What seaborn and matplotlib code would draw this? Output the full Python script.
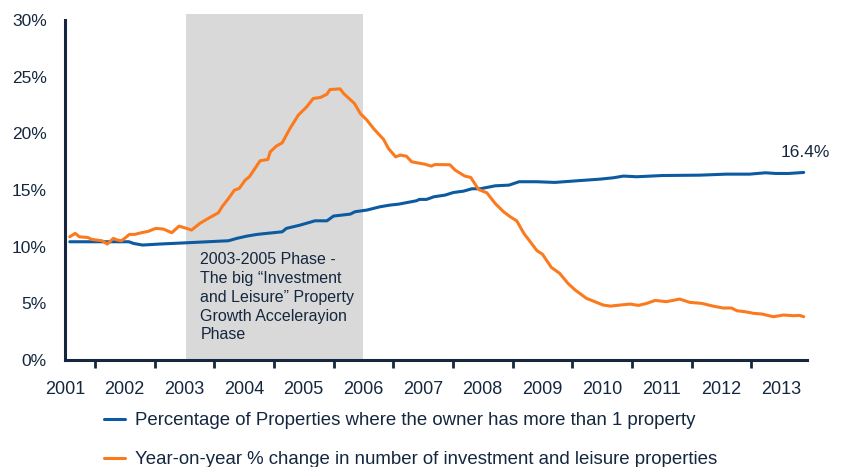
import pandas as pd
import numpy as np
import seaborn as sns
import matplotlib.pyplot as plt
from matplotlib.ticker import MultipleLocator, FuncFormatter

# data (decimal year, percent)
owner_years = [2001.08, 2002.07, 2002.15, 2002.30, 2002.59, 2003.04, 2003.74, 2003.88, 2004.05, 2004.22,
               2004.38, 2004.64, 2004.71, 2004.94, 2005.19, 2005.39, 2005.50, 2005.78, 2005.86, 2006.06,
               2006.28, 2006.45, 2006.59, 2006.89, 2006.94, 2007.06, 2007.18, 2007.37, 2007.51, 2007.68,
               2007.82, 2007.96, 2008.21, 2008.44, 2008.61, 2008.90, 2009.21, 2009.57, 2009.97, 2010.19,
               2010.36, 2010.58, 2011.02, 2011.64, 2012.08, 2012.47, 2012.74, 2012.91, 2013.13, 2013.38]
owner_pct = [10.44, 10.44, 10.29, 10.15, 10.24, 10.35, 10.53, 10.74, 10.94, 11.09,
             11.18, 11.32, 11.62, 11.91, 12.29, 12.29, 12.71, 12.88, 13.09, 13.24,
             13.53, 13.68, 13.76, 14.06, 14.18, 14.18, 14.41, 14.56, 14.79, 14.91,
             15.12, 15.12, 15.38, 15.44, 15.74, 15.74, 15.68, 15.82, 15.97, 16.09,
             16.24, 16.18, 16.29, 16.32, 16.41, 16.41, 16.53, 16.47, 16.47, 16.56]

yoy_years = [2001.08, 2001.17, 2001.24, 2001.38, 2001.45, 2001.53, 2001.62, 2001.71, 2001.81, 2001.88,
             2001.95, 2002.08, 2002.17, 2002.28, 2002.39, 2002.52, 2002.65, 2002.79, 2002.91, 2003.04,
             2003.12, 2003.26, 2003.40, 2003.57, 2003.64, 2003.74, 2003.84, 2003.92, 2004.02, 2004.09,
             2004.27, 2004.40, 2004.44, 2004.54, 2004.64, 2004.77, 2004.91, 2005.05, 2005.16, 2005.28,
             2005.39, 2005.44, 2005.61, 2005.67, 2005.85, 2005.95, 2006.06, 2006.17, 2006.34, 2006.42,
             2006.54, 2006.62, 2006.72, 2006.81, 2007.03, 2007.14, 2007.20, 2007.45, 2007.54, 2007.70,
             2007.80, 2007.93, 2008.07, 2008.21, 2008.35, 2008.46, 2008.57, 2008.69, 2008.91, 2009.00,
             2009.15, 2009.29, 2009.43, 2009.55, 2009.74, 2009.85, 2010.02, 2010.14, 2010.30, 2010.47,
             2010.61, 2010.75, 2010.89, 2011.08, 2011.30, 2011.47, 2011.67, 2011.86, 2012.03, 2012.17,
             2012.26, 2012.40, 2012.54, 2012.68, 2012.87, 2013.04, 2013.21, 2013.31, 2013.38]
yoy_pct = [10.88, 11.18, 10.88, 10.82, 10.65, 10.59, 10.53, 10.24, 10.74, 10.59,
           10.53, 11.09, 11.09, 11.24, 11.35, 11.62, 11.56, 11.24, 11.82, 11.62,
           11.47, 12.06, 12.50, 13.00, 13.59, 14.26, 15.00, 15.15, 15.88, 16.18,
           17.59, 17.71, 18.38, 18.88, 19.18, 20.44, 21.62, 22.35, 23.09, 23.18,
           23.47, 23.88, 23.94, 23.53, 22.65, 21.76, 21.18, 20.44, 19.47, 18.68,
           17.94, 18.09, 18.00, 17.50, 17.29, 17.12, 17.26, 17.24, 16.76, 16.24,
           16.12, 15.06, 14.76, 13.82, 13.09, 12.65, 12.29, 11.18, 9.65, 9.35,
           8.18, 7.65, 6.76, 6.18, 5.44, 5.21, 4.85, 4.76, 4.85, 4.94,
           4.82, 5.00, 5.26, 5.15, 5.38, 5.09, 5.00, 4.76, 4.59, 4.59,
           4.35, 4.26, 4.12, 4.06, 3.82, 3.97, 3.91, 3.94, 3.82]

series_names = ["Percentage of Properties where the owner has more than 1 property",
                "Year-on-year % change in number of investment and leisure properties"]
year_labels = list(range(2001, 2014))
ytick_vals = [0, 5, 10, 15, 20, 25, 30]

df = pd.concat([
    pd.DataFrame({"year": owner_years, "pct": owner_pct, "series": series_names[0]}),
    pd.DataFrame({"year": yoy_years, "pct": yoy_pct, "series": series_names[1]}),
])

navy = "#15273f"
blue = "#0c5aa0"
orange = "#fb7a1e"

sns.set_style("white")
plt.rcParams["font.family"] = ["Liberation Sans", "DejaVu Sans"]

fig = plt.figure(figsize=(8.45, 4.67), dpi=100)
ax = fig.add_axes([65 / 845, 1 - 360 / 467, 741.7 / 845, 346 / 467])

# shaded phase
ax.axvspan(2003.03, 2006, color="#d9d9d9", zorder=0, lw=0)

sns.lineplot(data=df, x="year", y="pct", hue="series", palette=[blue, orange],
             estimator=None, linewidth=2.2, ax=ax)

ax.set_xlim(2001, 2013.43)
ax.set_ylim(0, 30.55)
ax.set_xlabel("")
ax.set_ylabel("")

ax.set_xticks(year_labels)
ax.set_xticklabels([str(y) for y in year_labels])
ax.xaxis.set_minor_locator(MultipleLocator(0.5))
ax.set_yticks(ytick_vals)
ax.yaxis.set_major_formatter(FuncFormatter(lambda v, p: f"{v:.0f}%"))

ax.tick_params(axis="x", which="both", direction="out", length=6, width=2, color=navy,
               labelsize=13, labelcolor=navy, pad=9)
ax.tick_params(axis="y", direction="out", length=6, width=2, color=navy,
               labelsize=12.5, labelcolor=navy, pad=7)
ax.tick_params(axis="x", which="minor", bottom=True)

for side in ["top", "right"]:
    ax.spines[side].set_visible(False)
for side in ["left", "bottom"]:
    ax.spines[side].set_color(navy)
    ax.spines[side].set_linewidth(2.2)
ax.spines["left"].set_bounds(0, 30)

ax.text(2003.27, 9.5, "2003-2005 Phase -\nThe big \u201cInvestment\nand Leisure\u201d Property\n"
        "Growth Accelerayion\nPhase", fontsize=11.5, color=navy, va="top", ha="left",
        linespacing=1.31)

ax.text(2013.40, 18.35, "16.4%", fontsize=12.5, color=navy, ha="center", va="center")

handles, labels = ax.get_legend_handles_labels()
ax.legend_.remove()
fig.legend(handles, labels, loc="upper left", bbox_to_anchor=(104 / 845, 1 - 412 / 467),
           frameon=False, fontsize=13.4, handlelength=1.15, handletextpad=0.5,
           labelspacing=1.2, borderpad=0, borderaxespad=0, labelcolor=navy)

fig.savefig("out.png", dpi=100)
